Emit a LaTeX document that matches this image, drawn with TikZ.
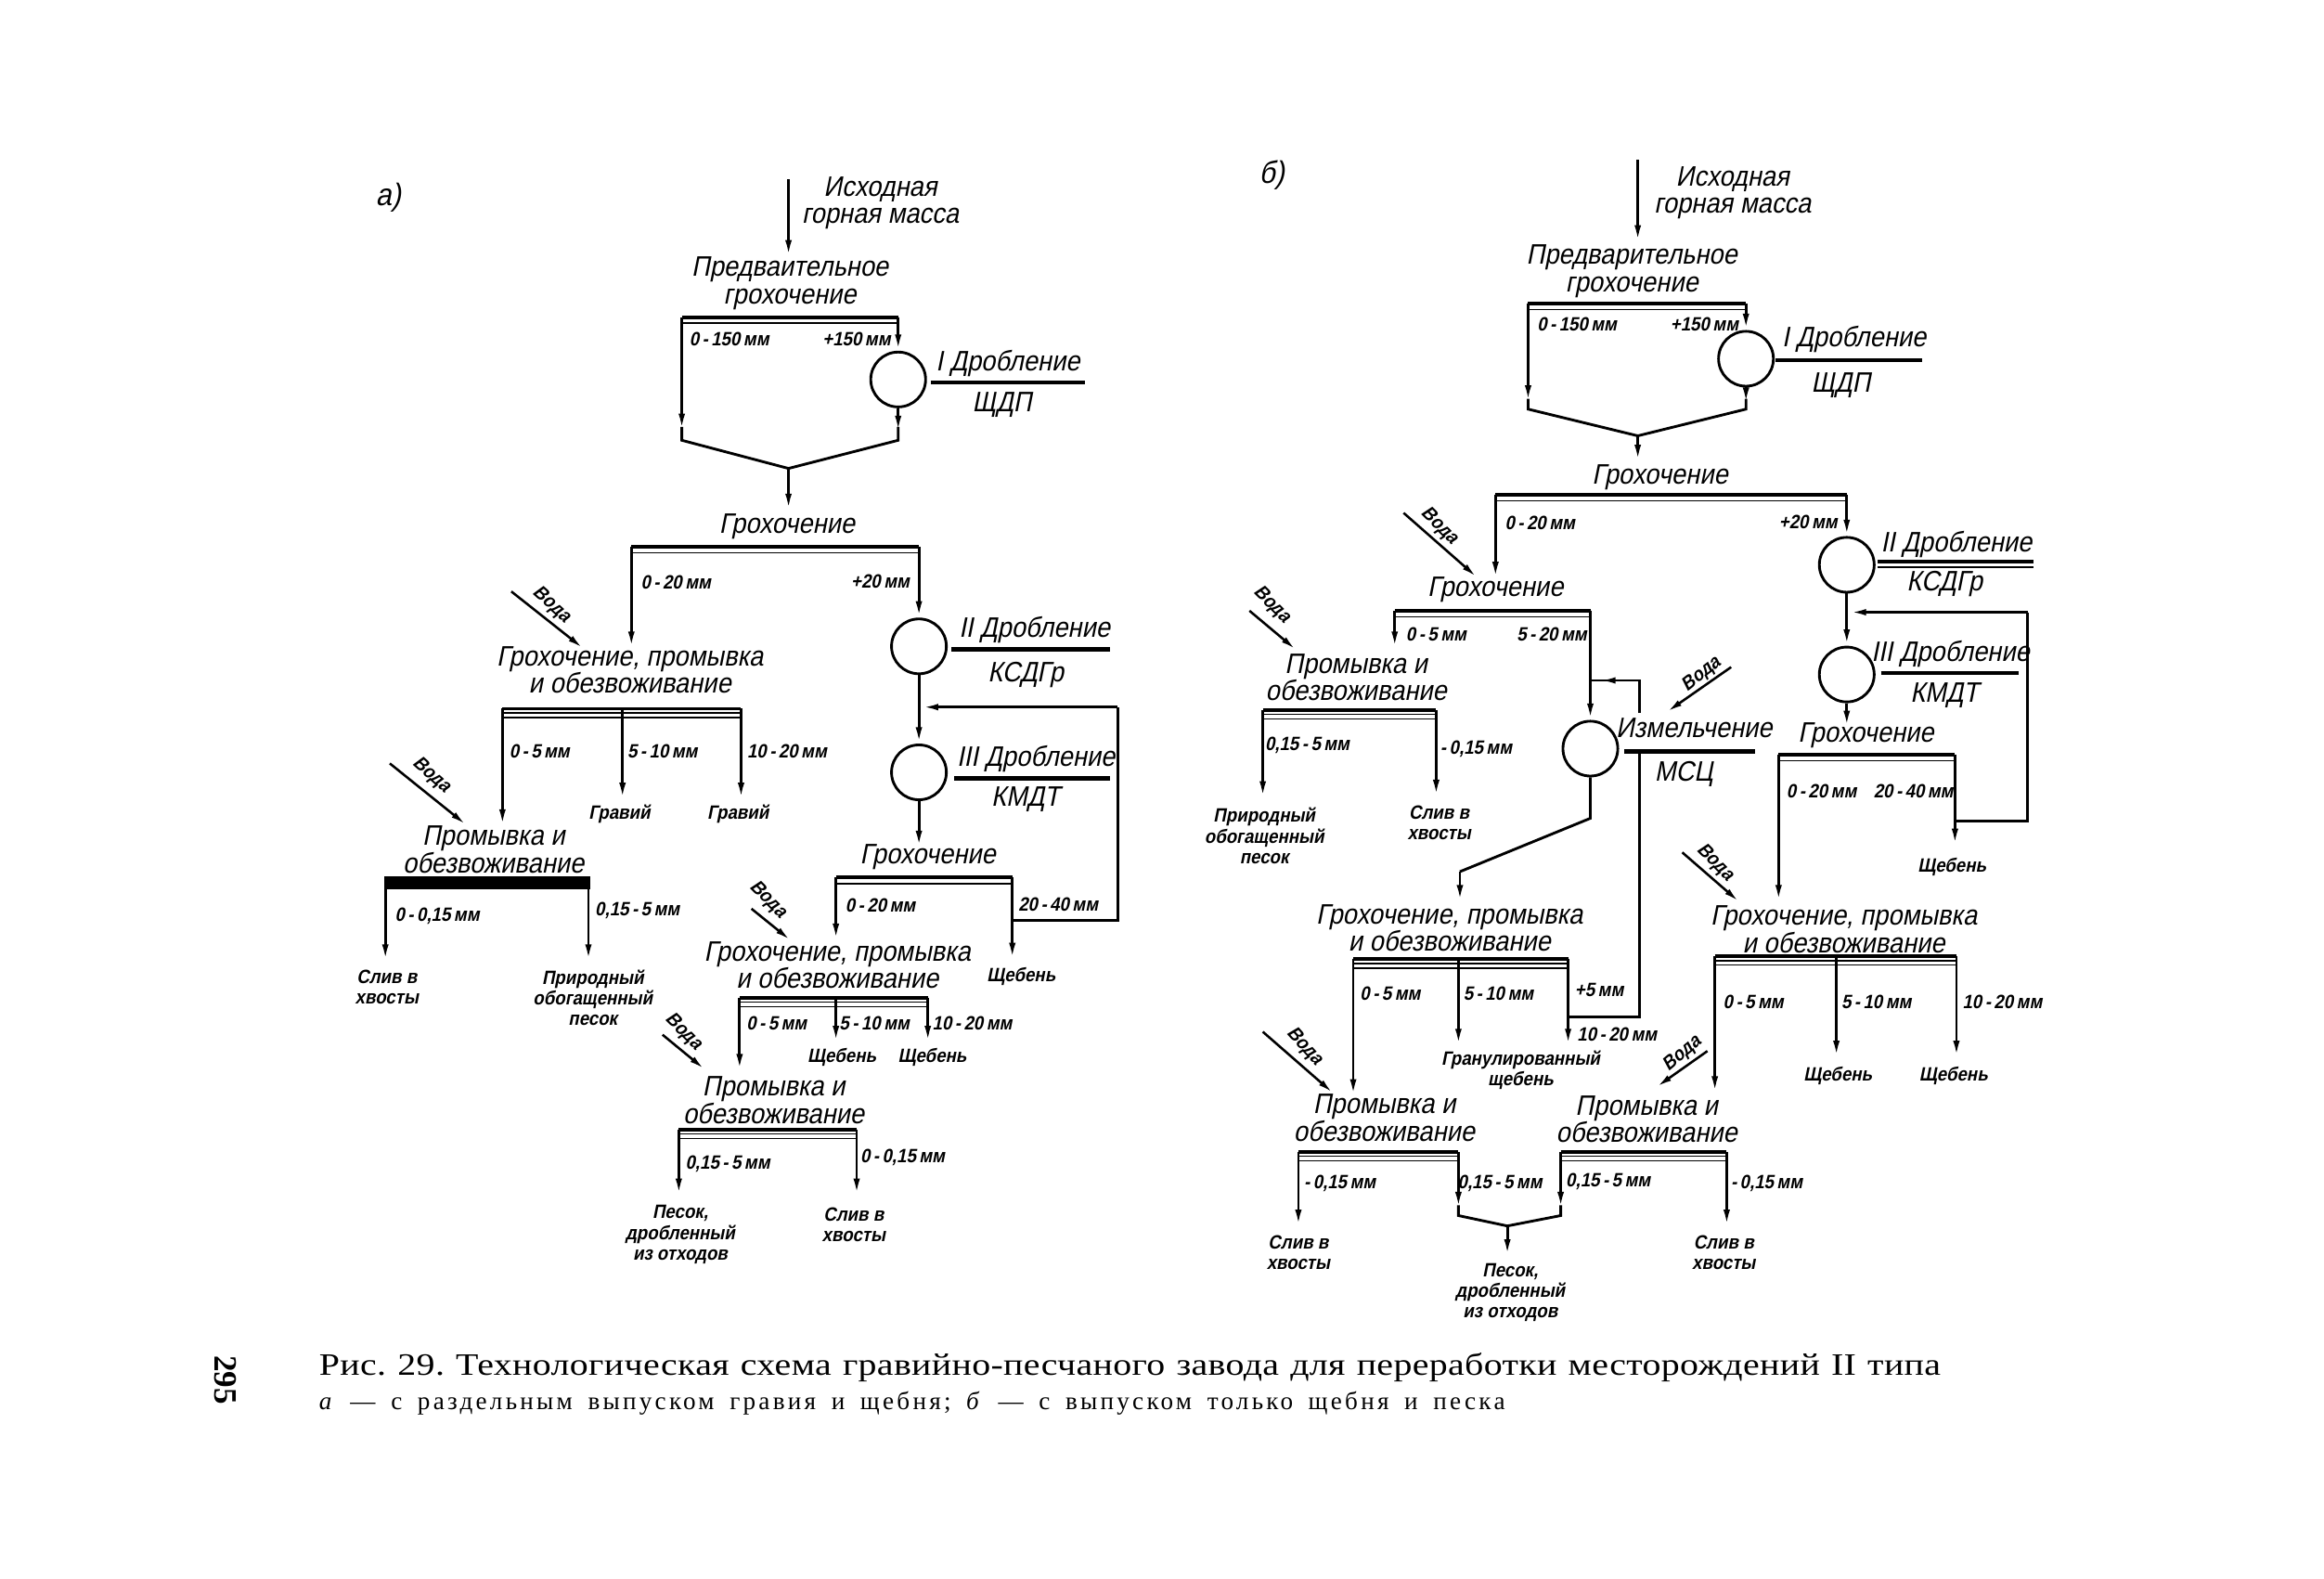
\documentclass[tikz,border=0pt]{standalone}
\usepackage{fontspec}
\setmainfont{Liberation Serif}
\newfontfamily\gost[FakeStretch=0.9,FakeSlant=0.2]{Liberation Sans}
\newfontfamily\gostsm[FakeStretch=0.9,FakeSlant=0.2]{Liberation Sans}
\newfontfamily\capfont[FakeStretch=1.19,LetterSpace=1]{Liberation Serif}
\newfontfamily\capfontb[LetterSpace=12]{Liberation Serif}
\usetikzlibrary{arrows.meta}
\tikzset{
  lab/.style={font=\gost\fontsize{9.5}{9.3}\selectfont, inner sep=0pt, align=center},
  sm/.style={font=\gostsm\bfseries\fontsize{6.5}{7}\selectfont, inner sep=0pt, align=center},
  ttl/.style={font=\gost\fontsize{10.5}{11}\selectfont, inner sep=0pt},
  flow/.style={line width=0.9pt},
  arr/.style={line width=0.9pt, -{Latex[length=5.5pt,width=2.2pt]}},
  crusher/.style={circle, draw, line width=0.9pt, minimum size=18.5pt, inner sep=0pt},
  uline/.style={line width=1.5pt},
  water/.style={line width=0.8pt, -{Latex[length=5pt,width=2.2pt]}},
  wlab/.style={font=\gostsm\bfseries\fontsize{6.5}{7}\selectfont, inner sep=0pt},
}
\newcommand\scrbar[3]{%
  \draw[line width=1.2pt] (#1,#3) -- (#2,#3);
  \draw[line width=0.45pt] (#1,#3+4) -- (#2,#3+4);
}
\newcommand\washbar[3]{%
  \draw[line width=1.1pt] (#1,#3) -- (#2,#3);
  \draw[line width=0.45pt] (#1,#3+3) -- (#2,#3+3);
  \draw[line width=0.45pt] (#1,#3+6) -- (#2,#3+6);
}
\frenchspacing
\begin{document}
\begin{tikzpicture}[x=0.5pt,y=-0.5pt]
\fill[white] (0,0) rectangle (1568,1065);
\useasboundingbox (0,0) rectangle (1568,1065);

% =================== (a) ===================
\node[ttl] (aLbl) at (262,133) {а)};
\node[lab] (aSrc) at (594,137) {Исходная\\горная масса};
\coordinate (aIn) at (532,121);
\draw[arr] (aIn) -- ++(0,52);
\node[lab] (aPre) at (533,191) {Предваительное\\грохочение};
\coordinate (a1L) at (460,214); \coordinate (a1R) at (606,214);
\scrbar{460}{606}{214}
\node[sm] (a1t1) at (492,229) {0\,-\,150\,мм};
\node[sm] (a1t2) at (578,229) {+150\,мм};
\node[crusher] (aC1) at (606,256) {};
\draw[arr] (a1R) -- (aC1.north);
\draw[arr] (a1L) -- ++(0,76);
\coordinate (aV) at (532,316);
\draw[flow] (460,288) -- (460,297) -- (aV) -- (606,297) -- (606,288);
\draw[arr] (aC1.south) -- ++(0,16);
\node[lab] (aD1) at (680,245) {I Дробление};
\draw[uline] (628,258) -- (732,258);
\node[lab] (aM1) at (676,273) {ЩДП};
\draw[arr] (aV) -- ++(0,28);
\node[lab] (aG1) at (531,355) {Грохочение};
\coordinate (a2L) at (426,369); \coordinate (a2R) at (620,369);
\scrbar{426}{620}{369}
\node[sm] (a2t1) at (456,393) {0\,-\,20\,мм};
\node[sm] (a2t2) at (594,392) {+20\,мм};
\draw[arr] (a2L) -- ++(0,68);
\node[crusher] (aC2) at (620,436) {};
\draw[arr] (a2R) -- (aC2.north);
\node[lab] (aD2) at (698,425) {II Дробление};
\draw[uline] (642,438) -- (749,438);
\node[lab] (aM2) at (692,455) {КСДГр};
\node[crusher] (aC3) at (620,521) {};
\draw[arr] (aC2.south) -- (aC3.north);
\node[lab] (aD3) at (699,512) {III Дробление};
\draw[uline] (644,525) -- (749,525);
\node[lab] (aM3) at (692,539) {КМДТ};
\draw[arr] (aC3.south) -- ++(0,31);
\node[lab] (aG2) at (626,578) {Грохочение};
\coordinate (a3L) at (564,592); \coordinate (a3R) at (683,592);
\scrbar{564}{683}{592}
\node[sm] (a3t1) at (594,611) {0\,-\,20\,мм};
\node[sm] (a3t2) at (714,610) {20\,-\,40\,мм};
\draw[arr] (a3L) -- ++(0,42);
\draw[arr] (a3R) -- ++(0,55);
\draw[flow] (683,621) -- (754,621) -- (754,477);
\draw[arr] (754,477) -- (622,477);
\node[sm] (aP1) at (689,659) {Щебень};
% water to screening-washing (right)
\node[wlab, rotate=-45] (aW1) at (518,607) {Вода};
\draw[water] (507,613) -- (533,634);
\node[lab] (aGW1) at (565,651) {Грохочение, промывка\\и обезвоживание};
\coordinate (a4L) at (499,673); \coordinate (a4M) at (564,673); \coordinate (a4R) at (626,673);
\washbar{499}{626}{673}
\node[sm] (a4t1) at (524,690) {0\,-\,5\,мм};
\node[sm] (a4t2) at (590,690) {5\,-\,10\,мм};
\node[sm] (a4t3) at (656,690) {10\,-\,20\,мм};
\draw[arr] (a4L) -- ++(0,49);
\draw[arr] (a4M) -- ++(0,30);
\draw[arr] (a4R) -- ++(0,30);
\node[sm] (aP2) at (568,713) {Щебень};
\node[sm] (aP3) at (629,713) {Щебень};
\node[wlab, rotate=-45] (aW2) at (461,696) {Вода};
\draw[water] (447,698) -- (475,721);
\node[lab] (aPW1) at (522,742) {Промывка и\\обезвоживание};
\coordinate (a5L) at (458,762); \coordinate (a5R) at (578,762);
\washbar{458}{578}{762}
\node[sm] (a5t1) at (491,785) {0,15\,-\,5\,мм};
\node[sm] (a5t2) at (609,781) {0\,-\,0,15\,мм};
\draw[arr] (a5L) -- ++(0,44);
\draw[arr] (a5R) -- ++(0,44);
\node[sm] (aP4) at (459,833) {Песок,\\дробленный\\из отходов};
\node[sm] (aP5) at (576,826) {Слив в\\хвосты};
% left branch
\node[wlab, rotate=-42] (aW3) at (372,408) {Вода};
\draw[water] (345,399) -- (393,437);
\node[lab] (aGW2) at (425,452) {Грохочение, промывка\\и обезвоживание};
\coordinate (a6L) at (339,478); \coordinate (a6M) at (420,478); \coordinate (a6R) at (500,478);
\washbar{339}{500}{478}
\node[sm] (a6t1) at (364,507) {0\,-\,5\,мм};
\node[sm] (a6t2) at (447,507) {5\,-\,10\,мм};
\node[sm] (a6t3) at (531,507) {10\,-\,20\,мм};
\draw[arr] (a6L) -- ++(0,79);
\draw[arr] (a6M) -- ++(0,61);
\draw[arr] (a6R) -- ++(0,61);
\node[sm] (aP6) at (418,549) {Гравий};
\node[sm] (aP7) at (498,549) {Гравий};
\node[wlab, rotate=-42] (aW4) at (291,523) {Вода};
\draw[water] (263,515) -- (314,556);
\node[lab] (aPW2) at (333,573) {Промывка и\\обезвоживание};
\coordinate (a7L) at (260,595); \coordinate (a7R) at (397,595);
\fill (259,591) rectangle (398,600);
\node[sm] (a7t1) at (295,618) {0\,-\,0,15\,мм};
\node[sm] (a7t2) at (430,614) {0,15\,-\,5\,мм};
\draw[arr] (a7L) -- ++(0,53);
\draw[arr] (a7R) -- ++(0,53);
\node[sm] (aP8) at (261,666) {Слив в\\хвосты};
\node[sm] (aP9) at (400,673) {Природный\\обогащенный\\песок};

% =================== (б) ===================
\node[ttl] (bLbl) at (858,118) {б)};
\node[lab] (bSrc) at (1169,130) {Исходная\\горная масса};
\coordinate (bIn) at (1105,108);
\draw[arr] (bIn) -- ++(0,55);
\node[lab] (bPre) at (1101,183) {Предварительное\\грохочение};
\coordinate (b1L) at (1031,205); \coordinate (b1R) at (1178,205);
\scrbar{1031}{1178}{205}
\node[sm] (b1t1) at (1064,219) {0\,-\,150\,мм};
\node[sm] (b1t2) at (1150,219) {+150\,мм};
\node[crusher] (bC1) at (1178,242) {};
\draw[arr] (b1R) -- (bC1.north);
\draw[arr] (b1L) -- ++(0,66);
\coordinate (bV) at (1105,294);
\draw[flow] (1031,269) -- (1031,276) -- (bV) -- (1178,276) -- (1178,269);
\draw[arr] (bC1.south) -- ++(0,11);
\node[lab] (bD1) at (1251,229) {I Дробление};
\draw[uline] (1198,243) -- (1297,243);
\node[lab] (bM1) at (1242,260) {ЩДП};
\draw[arr] (bV) -- ++(0,17);
\node[lab] (bG1) at (1120,322) {Грохочение};
\coordinate (b2L) at (1009,334); \coordinate (b2R) at (1246,334);
\scrbar{1009}{1246}{334}
\node[sm] (b2t1) at (1039,353) {0\,-\,20\,мм};
\node[sm] (b2t2) at (1220,352) {+20\,мм};
\draw[arr] (b2L) -- ++(0,56);
\node[crusher] (bC2) at (1246,381) {};
\draw[arr] (b2R) -- (bC2.north);
\node[lab] (bD2) at (1320,367) {II Дробление};
\draw[line width=1.2pt] (1267,379) -- (1372,379);
\draw[line width=0.5pt] (1267,382.5) -- (1372,382.5);
\node[lab] (bM2) at (1312,394) {КСДГр};
\node[crusher] (bC3) at (1246,455) {};
\draw[arr] (bC2.south) -- (bC3.north);
\node[lab] (bD3) at (1316,441) {III Дробление};
\draw[uline] (1269,454) -- (1362,454);
\node[lab] (bM3) at (1312,469) {КМДТ};
\draw[arr] (bC3.south) -- ++(0,16);
\node[lab] (bG3) at (1259,496) {Грохочение};
\coordinate (b6L) at (1200,509); \coordinate (b6R) at (1319,509);
\scrbar{1200}{1319}{509}
\node[sm] (b6t1) at (1229,534) {0\,-\,20\,мм};
\node[sm] (b6t2) at (1291,534) {20\,-\,40\,мм};
\draw[arr] (b6L) -- ++(0,99);
\draw[arr] (b6R) -- ++(0,61);
\draw[flow] (1319,554) -- (1368,554) -- (1368,413);
\draw[arr] (1368,413) -- (1248,413);
\node[sm] (bP1) at (1317,585) {Щебень};
% middle screening
\node[wlab, rotate=-45] (bW1) at (971,355) {Вода};
\draw[water] (947,346) -- (996,389);
\node[lab] (bG2) at (1009,398) {Грохочение};
\coordinate (b3L) at (941,412); \coordinate (b3R) at (1073,412);
\scrbar{941}{1073}{412}
\node[sm] (b3t1) at (969,428) {0\,-\,5\,мм};
\node[sm] (b3t2) at (1047,428) {5\,-\,20\,мм};
\draw[arr] (b3L) -- ++(0,25);
\node[crusher] (bCM) at (1073,505) {};
\draw[arr] (b3R) -- (bCM.north);
\node[lab] (bDM) at (1143,491) {Измельчение};
\draw[uline] (1096,507) -- (1184,507);
\node[lab] (bMM) at (1136,522) {МСЦ};
\node[wlab, rotate=38] (bW2) at (1148,455) {Вода};
\draw[water] (1168,450) -- (1125,480);
\coordinate (bCMo) at (1073,552);
\draw[flow] (bCM.south) -- (bCMo) -- (985,588);
\draw[arr] (985,588) -- (985,608);
% left washing
\node[wlab, rotate=-45] (bW3) at (858,408) {Вода};
\draw[water] (843,412) -- (874,438);
\node[lab] (bPW1) at (915,457) {Промывка и\\обезвоживание};
\coordinate (b5L) at (852,479); \coordinate (b5R) at (969,479);
\washbar{852}{969}{479}
\node[sm] (b5t1) at (882,503) {0,15\,-\,5\,мм};
\node[sm] (b5t2) at (996,505) {-\,0,15\,мм};
\draw[arr] (b5L) -- ++(0,59);
\draw[arr] (b5R) -- ++(0,58);
\node[sm] (bP2) at (853,564) {Природный\\обогащенный\\песок};
\node[sm] (bP3) at (971,555) {Слив в\\хвосты};
% screening-washing after grinding
\node[lab] (bGW1) at (978,626) {Грохочение, промывка\\и обезвоживание};
\coordinate (b4L) at (913,647); \coordinate (b4M) at (984,647); \coordinate (b4R) at (1058,647);
\washbar{913}{1058}{647}
\node[sm] (b4t1) at (938,670) {0\,-\,5\,мм};
\node[sm] (b4t2) at (1011,670) {5\,-\,10\,мм};
\node[sm] (b4t3) at (1079,668) {+5\,мм};
\node[sm] (b4t4) at (1091,698) {10\,-\,20\,мм};
\draw[arr] (b4L) -- ++(0,92);
\draw[arr] (b4M) -- ++(0,58);
\draw[arr] (b4R) -- ++(0,58);
\draw[flow] (1058,686) -- (1106,686) -- (1106,508);
\draw[flow] (1106,481) -- (1106,459) -- (1074,459);
\draw[arr] (1096,459) -- (1079,459);
\node[sm] (bP4) at (1026,722) {Гранулированный\\щебень};
\node[wlab, rotate=-48] (bW4) at (880,706) {Вода};
\draw[water] (852,696) -- (899,737);
\node[lab] (bPW2) at (934,754) {Промывка и\\обезвоживание};
\coordinate (b7L) at (876,777); \coordinate (b7R) at (984,777);
\washbar{876}{984}{777}
\node[sm] (b7t1) at (904,798) {-\,0,15\,мм};
\node[sm] (b7t2) at (1012,798) {0,15\,-\,5\,мм};
\draw[arr] (b7L) -- ++(0,50);
\draw[arr] (b7R) -- ++(0,38);
\node[sm] (bP5) at (876,845) {Слив в\\хвосты};
% right screening-washing
\node[wlab, rotate=-45] (bW5) at (1157,582) {Вода};
\draw[water] (1135,575) -- (1173,608);
\node[lab] (bGW2) at (1244,627) {Грохочение, промывка\\и обезвоживание};
\coordinate (b8L) at (1157,645); \coordinate (b8M) at (1239,645); \coordinate (b8R) at (1320,645);
\washbar{1157}{1320}{645}
\node[sm] (b8t1) at (1183,676) {0\,-\,5\,мм};
\node[sm] (b8t2) at (1266,676) {5\,-\,10\,мм};
\node[sm] (b8t3) at (1351,676) {10\,-\,20\,мм};
\draw[arr] (b8L) -- ++(0,92);
\draw[arr] (b8M) -- ++(0,68);
\draw[arr] (b8R) -- ++(0,68);
\node[sm] (bP6) at (1240,726) {Щебень};
\node[sm] (bP7) at (1318,726) {Щебень};
\node[wlab, rotate=40] (bW6) at (1135,711) {Вода};
\draw[water] (1152,709) -- (1118,733);
\node[lab] (bPW3) at (1111,755) {Промывка и\\обезвоживание};
\coordinate (b9L) at (1053,777); \coordinate (b9R) at (1165,777);
\washbar{1053}{1165}{777}
\node[sm] (b9t1) at (1085,797) {0,15\,-\,5\,мм};
\node[sm] (b9t2) at (1192,798) {-\,0,15\,мм};
\draw[arr] (b9L) -- ++(0,38);
\draw[arr] (b9R) -- ++(0,50);
\node[sm] (bP8) at (1163,845) {Слив в\\хвосты};
% merge of sands
\coordinate (bV2) at (1017,827);
\draw[flow] (984,813) -- (984,820) -- (bV2) -- (1053,820) -- (1053,813);
\draw[arr] (bV2) -- ++(0,20);
\node[sm] (bP9) at (1019,872) {Песок,\\дробленный\\из отходов};

% =================== caption ===================
\node[anchor=base west, inner sep=0pt, font=\capfont\fontsize{10.5}{12}\selectfont] (cap1) at (215,928)
  {\makebox[547pt][s]{Рис. 29. Технологическая схема гравийно-песчаного завода для переработки месторождений II типа}};
\node[anchor=base west, inner sep=0pt, font=\capfontb\fontsize{8.5}{10}\selectfont] (cap2) at (215,951)
  {\makebox[400pt][s]{\textit{а} — с раздельным выпуском гравия и щебня; \textit{б} — с выпуском только щебня и песка}};
\node[rotate=-90, inner sep=0pt, font=\bfseries\fontsize{11}{12}\selectfont] (pg) at (152,931) {295};
\end{tikzpicture}
\end{document}
